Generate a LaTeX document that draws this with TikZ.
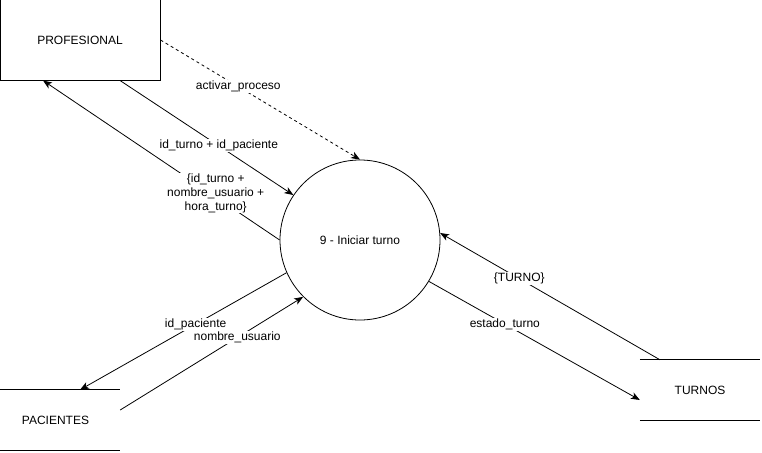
\documentclass[tikz,border=0pt]{standalone}
\usepackage{fontspec}
\setmainfont{Liberation Sans}
\usetikzlibrary{arrows.meta}
\begin{document}
\begin{tikzpicture}[x=1pt,y=-1pt,
  every node/.style={font=\fontsize{12}{14}\selectfont},
  flow/.style={line width=0.8pt,-{Stealth[length=9pt,width=7pt,inset=2.5pt]}},
  lbl/.style={fill=white,inner sep=1pt,align=center},
  entity/.style={draw,line width=1pt,minimum width=160pt,minimum height=80pt,inner sep=0pt},
  proc/.style={draw,line width=0.8pt,circle,minimum size=160pt,inner sep=0pt},
  store/.style={minimum width=120pt,minimum height=60pt,inner sep=0pt}]
\useasboundingbox (0,0) rectangle (762,452);
\node[entity] (prof) at (80,40) {PROFESIONAL};
\node[proc] (p) at (360,240) {9 - Iniciar turno};
\node[store] (pac) at (60,420) {\hspace*{-9pt}PACIENTES};
\node[store] (tur) at (700,390) {TURNOS};
\draw[line width=0.8pt] (pac.north west) -- (pac.north east) (pac.south west) -- (pac.south east);
\draw[line width=0.8pt] (tur.north west) -- (tur.north east) (tur.south west) -- (tur.south east);
\draw[flow,dashed,dash pattern=on 3pt off 3pt] (prof.east) -- node[lbl,pos=0.39] {activar\_proceso} (p.north);
\draw[flow] (p.west) -- node[lbl,pos=0.27,yshift=4pt,inner ysep=0pt] {\{id\_turno +\\nombre\_usuario +\\hora\_turno\}} ([xshift=-37pt]prof.south);
\draw[flow] ([xshift=40pt]prof.south) -- node[lbl,pos=0.57] {id\_turno + id\_paciente} (p.146);
\draw[flow] (p.204) -- node[lbl,pos=0.44] {id\_paciente} ([xshift=20pt]pac.north);
\draw[flow] ([yshift=10pt]pac.east) -- node[lbl,pos=0.64] {nombre\_usuario} (p.225);
\draw[flow] ([xshift=-40pt]tur.north) -- node[lbl,pos=0.64] {\{TURNO\}} (p.5);
\draw[flow] (p.-31) -- node[lbl,pos=0.36] {estado\_turno} ([yshift=-10pt]tur.west);
\end{tikzpicture}
\end{document}
